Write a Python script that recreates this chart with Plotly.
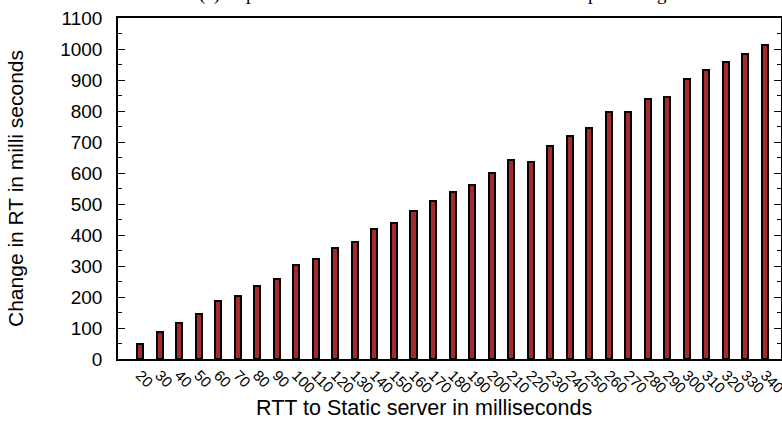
import plotly.graph_objects as go

# Data
rtt_ms = [20, 30, 40, 50, 60, 70, 80, 90, 100, 110, 120, 130, 140, 150, 160, 170,
          180, 190, 200, 210, 220, 230, 240, 250, 260, 270, 280, 290, 300, 310,
          320, 330, 340]
change_rt_ms = [50, 87, 117, 145, 186, 204, 236, 259, 304, 323, 358, 379, 418, 438,
                479, 510, 538, 562, 601, 643, 637, 687, 718, 744, 798, 796, 838, 845,
                902, 933, 957, 985, 1012]
tick_labels = [str(v) for v in rtt_ms]

title_text = "(a) Impact of RTT to Static server on the total Composite Page load time"
x_title = "RTT to Static server in milliseconds"
y_title = "Change in RT in milli seconds"

sans = "Liberation Sans, Arial, sans-serif"

fig = go.Figure()
fig.add_trace(go.Bar(
    x=rtt_ms,
    y=change_rt_ms,
    width=3.1,
    marker=dict(color="#A52A2A", line=dict(color="black", width=2)),
    showlegend=False,
))

fig.update_layout(
    width=782,
    height=427,
    margin=dict(l=118, r=1, t=18, b=68),
    paper_bgcolor="white",
    plot_bgcolor="white",
    font=dict(family=sans, color="black"),
    xaxis=dict(
        range=[8.7, 348.2],
        tickmode="array",
        tickvals=rtt_ms,
        ticktext=tick_labels,
        tickangle=45,
        ticks="",
        tickfont=dict(size=15, family=sans),
        ticklabeloverflow="allow",
        showgrid=False,
        zeroline=False,
        showline=True,
        linecolor="black",
        linewidth=1.5,
        mirror=True,
        automargin=False,
    ),
    yaxis=dict(
        range=[0, 1100],
        dtick=100,
        ticks="inside",
        ticklen=7,
        tickwidth=1.2,
        tickcolor="black",
        minor=dict(dtick=50, ticks="inside", ticklen=4, tickwidth=1, tickcolor="black"),
        tickfont=dict(size=19, family=sans),
        ticklabelstandoff=10,
        showgrid=False,
        zeroline=False,
        showline=True,
        linecolor="black",
        linewidth=1.5,
        mirror="ticks",
        automargin=False,
        title=dict(text=y_title, font=dict(size=21, family=sans), standoff=31),
    ),
    bargap=0,
)

# x-axis title (offset left of the plot centre, as in the reference)
fig.add_annotation(
    text=x_title,
    xref="paper", yref="paper",
    x=(424 - 118) / 663, y=0,
    xanchor="center", yanchor="middle",
    yshift=-(408 - 359),
    showarrow=False,
    font=dict(family=sans, size=21.5, color="black"),
)

# chart caption, cut off at the top edge
fig.add_annotation(
    text=title_text,
    xref="paper", yref="paper",
    x=(197 - 118) / 663, y=1,
    xanchor="left", yanchor="bottom",
    yshift=11,
    showarrow=False,
    font=dict(family="Liberation Serif, Times New Roman, serif", size=19, color="black"),
)

fig.write_html("out.html", config={"displayModeBar": False},
               post_script="document.body.style.margin='0px';")
